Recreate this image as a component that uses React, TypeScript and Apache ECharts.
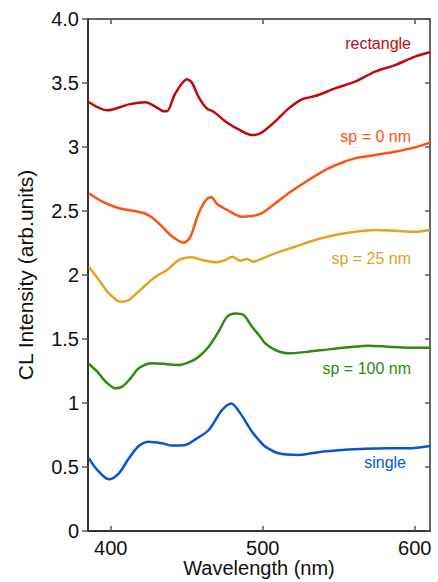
import React, { useEffect, useRef } from "react";
import * as echarts from "echarts";

// Wavelength (nm) / intensity readings for each spectrum
const rectWl = [385.6, 397.7, 411.9, 422.8, 429.4, 434.8, 437, 442.5, 450.2, 453.5, 457.8, 463.3, 467.7, 475.4, 484.1, 492.9, 497.2, 501.6, 508.2, 516.9, 525.7, 534.5, 547.6, 560.7, 573.9, 587, 600.1, 610];
const rectVal = [3.35, 3.287, 3.333, 3.35, 3.315, 3.28, 3.28, 3.42, 3.529, 3.5, 3.39, 3.3, 3.276, 3.2, 3.138, 3.094, 3.1, 3.133, 3.2, 3.3, 3.372, 3.398, 3.458, 3.51, 3.589, 3.64, 3.706, 3.74];

const sp0Wl = [385.6, 394.4, 405.3, 411.9, 421.7, 427.2, 433.8, 440.4, 448, 452.4, 457.8, 462.7, 466.2, 469.9, 477.5, 486.3, 492.9, 498.3, 503.8, 516.9, 530.1, 543.2, 552, 560.7, 573.9, 587, 600.1, 610];
const sp0Val = [2.638, 2.573, 2.521, 2.508, 2.482, 2.45, 2.378, 2.3, 2.252, 2.3, 2.482, 2.586, 2.607, 2.555, 2.502, 2.455, 2.461, 2.477, 2.52, 2.638, 2.742, 2.833, 2.877, 2.911, 2.937, 2.963, 2.997, 3.034];

const sp25Wl = [385.6, 392.2, 398.7, 406.4, 411.9, 420.6, 429.4, 437, 444.7, 453.5, 460, 468.8, 475.4, 479.8, 485.2, 489.6, 494, 498.3, 508.2, 521.3, 534.5, 547.6, 560.7, 573.9, 587, 600.1, 610];
const sp25Val = [2.065, 1.961, 1.857, 1.791, 1.805, 1.896, 1.987, 2.039, 2.117, 2.138, 2.117, 2.099, 2.117, 2.143, 2.112, 2.125, 2.104, 2.122, 2.169, 2.221, 2.273, 2.312, 2.338, 2.352, 2.346, 2.338, 2.352];

const sp100Wl = [385.6, 391.1, 396.6, 403.1, 407.5, 413, 418.4, 427.2, 435.9, 444.7, 452.4, 457.8, 464.4, 470.9, 476.5, 481.9, 487.4, 492.9, 498.3, 501.6, 508.2, 516.9, 530.1, 543.2, 556.3, 569.4, 582.6, 595.7, 610];
const sp100Val = [1.305, 1.245, 1.167, 1.115, 1.128, 1.193, 1.271, 1.31, 1.305, 1.297, 1.323, 1.362, 1.44, 1.557, 1.674, 1.7, 1.688, 1.596, 1.518, 1.466, 1.414, 1.388, 1.401, 1.419, 1.435, 1.448, 1.44, 1.432, 1.432];

const singleWl = [385.6, 391.1, 398.7, 405.3, 411.9, 418.4, 425, 433.8, 440.4, 449.1, 455.7, 464.4, 473.2, 479.3, 485.2, 492.9, 498.3, 501.6, 510.3, 523.5, 538.8, 552, 567.3, 582.6, 595.7, 610];
const singleVal = [0.568, 0.477, 0.404, 0.451, 0.568, 0.664, 0.698, 0.685, 0.667, 0.672, 0.716, 0.789, 0.945, 0.997, 0.919, 0.776, 0.698, 0.659, 0.607, 0.594, 0.62, 0.633, 0.643, 0.646, 0.646, 0.664];

const seriesNames = ["rectangle", "sp = 0 nm", "sp = 25 nm", "sp = 100 nm", "single"];
const seriesColors = ["#c00812", "#ff5212", "#e3a224", "#2f8a0f", "#0a55cc"];
const xTicks = [400, 500, 600];

const FONT = "'Liberation Sans', Arial, Helvetica, sans-serif";

export default function App() {
  const ref = useRef<HTMLDivElement>(null);
  useEffect(() => {
    if (!ref.current) return;
    const chart = echarts.init(ref.current, null, { renderer: "svg" });
    const sets = [
      [rectWl, rectVal],
      [sp0Wl, sp0Val],
      [sp25Wl, sp25Val],
      [sp100Wl, sp100Val],
      [singleWl, singleVal],
    ];
    const labelPos = [
      { x: 411, y: 43 },
      { x: 411, y: 136 },
      { x: 411, y: 258 },
      { x: 411, y: 368 },
      { x: 406, y: 462 },
    ];
    chart.setOption({
      animation: false,
      grid: { left: 88, right: 8, top: 19, bottom: 51, containLabel: false, outerBoundsMode: "none" },
      xAxis: [
        {
          type: "value",
          min: 385,
          max: 610,
          position: "bottom",
          name: "Wavelength (nm)",
          nameLocation: "middle",
          nameGap: 27,
          nameMoveOverlap: false,
          nameTextStyle: { fontSize: 20, color: "#111", fontFamily: FONT },
          axisLine: { show: true, onZero: false, lineStyle: { color: "#333", width: 2 } },
          axisTick: { show: true, inside: true, length: 5, customValues: xTicks, lineStyle: { color: "#555", width: 1.5 } },
          axisLabel: { show: true, customValues: xTicks, margin: 7, fontSize: 20, color: "#111", fontFamily: FONT },
          splitLine: { show: false },
        },
        {
          type: "value",
          min: 385,
          max: 610,
          position: "top",
          axisLine: { show: true, onZero: false, lineStyle: { color: "#333", width: 1.5 } },
          axisTick: { show: true, inside: true, length: 5, customValues: xTicks, lineStyle: { color: "#555", width: 1.5 } },
          axisLabel: { show: false },
          splitLine: { show: false },
        },
      ],
      yAxis: [
        {
          type: "value",
          min: 0,
          max: 4,
          interval: 0.5,
          position: "left",
          name: "CL Intensity (arb.units)",
          nameLocation: "middle",
          nameGap: 52,
          nameMoveOverlap: false,
          nameTextStyle: { fontSize: 21, color: "#111", fontFamily: FONT },
          axisLine: { show: true, onZero: false, lineStyle: { color: "#333", width: 2 } },
          axisTick: { show: true, inside: false, length: 6, lineStyle: { color: "#555", width: 1.5 } },
          axisLabel: {
            margin: 9,
            fontSize: 20,
            color: "#111",
            fontFamily: FONT,
            formatter: (v: number) => (v === 4 ? "4.0" : String(v)),
          },
          splitLine: { show: false },
        },
        {
          type: "value",
          min: 0,
          max: 4,
          interval: 0.5,
          position: "right",
          axisLine: { show: true, onZero: false, lineStyle: { color: "#333", width: 1.5 } },
          axisTick: { show: true, inside: true, length: 5, lineStyle: { color: "#555", width: 1.5 } },
          axisLabel: { show: false },
          splitLine: { show: false },
        },
      ],
      series: sets.map(([wl, vals], i) => ({
        type: "line",
        name: seriesNames[i],
        data: (wl as number[]).map((w, j) => [w, (vals as number[])[j]]),
        showSymbol: false,
        smooth: 0.3,
        lineStyle: { color: seriesColors[i], width: 2.5 },
        itemStyle: { color: seriesColors[i] },
        clip: true,
      })),
      graphic: seriesNames.map((n, i) => ({
        type: "text",
        x: labelPos[i].x,
        y: labelPos[i].y,
        style: {
          text: n,
          fill: seriesColors[i],
          fontSize: 16,
          fontFamily: FONT,
          align: "right",
          verticalAlign: "middle",
        },
      })),
    });
    return () => chart.dispose();
  }, []);
  return (
    <div
      ref={ref}
      style={{ position: "fixed", left: 0, top: 0, width: 438, height: 582, background: "#fff" }}
    />
  );
}
